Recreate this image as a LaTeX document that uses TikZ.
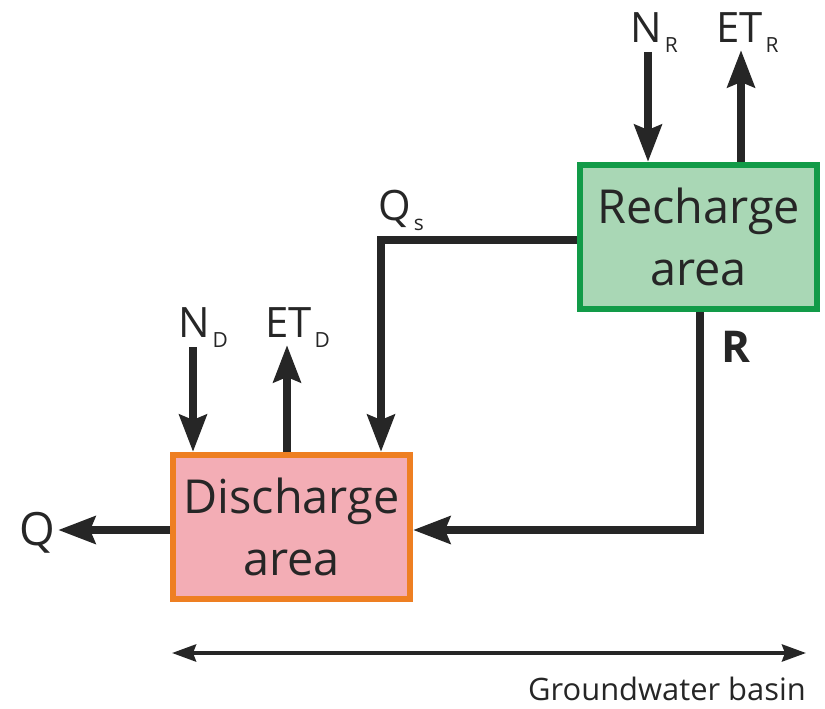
\documentclass[tikz,border=0pt]{standalone}
\usepackage{fontspec}
\setmainfont{Open Sans}
\usepackage{tikz}
\usetikzlibrary{arrows.meta, positioning}
\definecolor{inkgray}{HTML}{262626}
\definecolor{rechargeline}{HTML}{129B48}
\definecolor{rechargefill}{HTML}{A9D7B5}
\definecolor{dischargeline}{HTML}{EE7F22}
\definecolor{dischargefill}{HTML}{F3ADB5}
\newcommand\lowsub[1]{\kern3bp\raisebox{-10bp}{\fontsize{21}{21}\selectfont #1}}

\begin{document}
\begin{tikzpicture}[
    x=1bp, y=-1bp,
    area/.style = {
      rectangle, line width=6bp,
      minimum width=237bp, minimum height=144bp,
      align=center, text=inkgray,
      font=\fontsize{47}{63}\selectfont
    },
    recharge/.style  = {area, draw=rechargeline, fill=rechargefill},
    discharge/.style = {area, draw=dischargeline, fill=dischargefill},
    flow/.style  = {-{Stealth[length=37bp, width=27bp, inset=5bp]},
                    line width=8bp, color=inkgray},
    basin/.style = {{Stealth[length=24bp, width=17bp, inset=3bp]}-{Stealth[length=24bp, width=17bp, inset=3bp]},
                    line width=4bp, color=inkgray},
    lbl/.style   = {anchor=base west, inner sep=0pt, text=inkgray,
                    font=\fontsize{42}{42}\selectfont}
  ]
  \useasboundingbox (0,0) rectangle (825,709);

  % Boxes
  \node[recharge]  at (698.5,237) (rech) {Recharge\\area};
  \node[discharge] at (291.5,527) (disch) {Discharge\\area};

  % Labels
  \node[lbl] at (630,43)  (nR)  {N\lowsub{R}};
  \node[lbl] at (716,43)  (etR) {ET\lowsub{R}};
  \node[lbl] at (178,337) (nD)  {N\lowsub{D}};
  \node[lbl] at (265,337) (etD) {ET\lowsub{D}};
  \node[lbl] at (378,220) (qs)  {Q\lowsub{s}};
  \node[lbl, font=\fontsize{46}{46}\selectfont] at (19,545) (q) {Q};
  \node[lbl, font=\fontsize{44}{44}\selectfont\bfseries] at (721,362) (r) {R};
  \node[anchor=base east, inner sep=0pt, text=inkgray,
        font=\fontsize{31}{31}\selectfont] at (806,700) (gwb) {Groundwater basin};

  % Corner points
  \coordinate (nRtop)   at (648,52);
  \coordinate (etRtop)  at (741,50);
  \coordinate (nDtop)   at (193,347);
  \coordinate (etDtop)  at (287,345);
  \coordinate (qsbend)  at (381,240);
  \coordinate (rbend)   at (700,530);
  \coordinate (basinL)  at (172,653);
  \coordinate (basinR)  at (806,653);

  % Arrows
  \draw[flow] (nRtop) -- (nRtop |- rech.north);
  \draw[flow] (etRtop |- rech.north) -- (etRtop);
  \draw[flow] (nDtop) -- (nDtop |- disch.north);
  \draw[flow] (etDtop |- disch.north) -- (etDtop);
  \draw[flow] (rech.west |- qsbend) -- (qsbend) -- (qsbend |- disch.north);
  \draw[flow] (rbend |- rech.south) -- (rbend) -- (disch.east |- rbend);
  \draw[flow] (disch.west |- rbend) -- ([xshift=3bp]q.east |- rbend);
  \draw[basin] (basinL) -- (basinR);
\end{tikzpicture}
\end{document}
